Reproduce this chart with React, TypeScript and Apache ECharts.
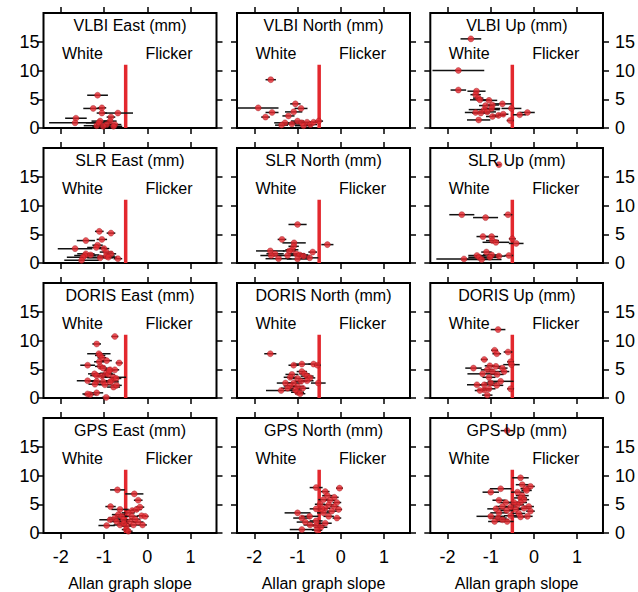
import React, { useEffect, useRef } from "react";
import * as echarts from "echarts";

// ---------- data: [slope, value(mm), slope error half-width] ----------
const vlbiEast = [
  [-1.15, 5.7, 0.24], [-1.25, 3.4, 0.23], [-1.05, 3.5, 0.1], [-1.05, 2.6, 0.12], [-0.68, 2.6, 0.35],
  [-1.65, 1.7, 0.25], [-1.67, 0.9, 0.6], [-0.84, 1.9, 0.1], [-0.86, 1.2, 0.15], [-1.09, 1.2, 0.2],
  [-1.17, 0.4, 0.3], [-0.94, 0.6, 0.25], [-0.75, 0.6, 0.15], [-1.12, 0.9, 0.3], [-0.78, 0.3, 0.2], [-1.02, 0.3, 0.25],
];
const vlbiNorth = [
  [-1.62, 8.4, 0.12], [-1.91, 3.5, 0.47], [-1.59, 2.7, 0.15], [-1.74, 1.9, 0.1], [-1.05, 4.2, 0.12],
  [-0.92, 3.4, 0.15], [-1.09, 2.8, 0.2], [-1.21, 2.1, 0.14], [-1.0, 1.2, 0.15], [-1.29, 0.9, 0.25],
  [-1.13, 0.7, 0.2], [-0.9, 0.9, 0.2], [-0.78, 1.0, 0.15], [-0.7, 0.6, 0.15], [-0.63, 1.0, 0.1],
  [-0.51, 1.2, 0.1], [-0.86, 0.4, 0.2], [-1.37, 0.5, 0.15],
];
const vlbiUp = [
  [-1.46, 15.5, 0.24], [-1.75, 10.0, 0.6], [-1.75, 6.6, 0.18], [-1.33, 6.4, 0.21], [-1.35, 5.8, 0.12],
  [-1.29, 5.2, 0.12], [-1.25, 4.9, 0.23], [-1.04, 4.8, 0.19], [-0.73, 4.2, 0.21], [-1.12, 3.9, 0.15],
  [-0.96, 4.0, 0.15], [-0.98, 3.4, 0.2], [-1.15, 3.2, 0.36], [-1.08, 2.8, 0.2], [-0.52, 3.4, 0.23],
  [-1.35, 2.7, 0.25], [-1.23, 2.6, 0.2], [-0.82, 2.2, 0.15], [-0.71, 2.4, 0.12], [-0.96, 2.0, 0.15],
  [-0.33, 2.3, 0.15], [-0.15, 2.7, 0.17], [-1.28, 1.4, 0.27], [-0.55, 1.3, 0.08],
];
const slrEast = [
  [-1.11, 5.5, 0.1], [-0.84, 5.2, 0.1], [-1.42, 3.9, 0.21], [-1.05, 4.1, 0.12], [-1.15, 3.1, 0.12],
  [-1.18, 2.7, 0.21], [-1.0, 2.5, 0.12], [-1.67, 2.5, 0.4], [-0.95, 1.9, 0.15], [-0.84, 1.6, 0.12],
  [-1.42, 1.6, 0.2], [-1.44, 1.3, 0.25], [-1.31, 1.4, 0.2], [-0.95, 1.2, 0.2], [-1.09, 0.9, 0.3],
  [-0.9, 1.0, 0.2], [-1.49, 1.0, 0.37], [-0.68, 0.75, 0.1], [-1.52, 0.46, 0.4],
];
const slrNorth = [
  [-1.0, 6.7, 0.21], [-1.36, 4.1, 0.1], [-1.08, 3.5, 0.27], [-0.31, 3.2, 0.14], [-1.09, 2.9, 0.12],
  [-1.13, 2.3, 0.15], [-1.19, 2.1, 0.15], [-1.63, 2.1, 0.33], [-1.52, 1.6, 0.2], [-1.61, 1.3, 0.25],
  [-0.65, 1.9, 0.1], [-1.03, 1.6, 0.2], [-0.95, 1.4, 0.2], [-1.23, 1.3, 0.2], [-1.44, 0.75, 0.3],
  [-1.0, 0.7, 0.25], [-0.72, 0.9, 0.2], [-0.86, 1.2, 0.15],
];
const slrUp = [
  [-0.81, 17.1, 0.05], [-1.67, 8.4, 0.29], [-1.12, 7.9, 0.29], [-0.6, 8.4, 0.1], [-1.18, 4.6, 0.15],
  [-0.98, 4.6, 0.15], [-0.96, 3.9, 0.15], [-0.88, 3.6, 0.31], [-0.5, 4.2, 0.08], [-0.41, 3.4, 0.17],
  [-1.1, 1.9, 0.12], [-1.32, 1.3, 0.2], [-1.27, 1.0, 0.25], [-0.98, 1.4, 0.2], [-0.81, 1.2, 0.15],
  [-1.02, 1.0, 0.2], [-0.58, 1.3, 0.1], [-1.62, 0.7, 0.64], [-1.21, 0.6, 0.46],
];
const dorisEast = [
  [-0.75, 10.7, 0.08], [-1.17, 9.4, 0.1], [-1.12, 7.7, 0.27], [-1.09, 7.4, 0.12], [-1.05, 7.0, 0.1],
  [-0.94, 6.5, 0.12], [-0.65, 6.1, 0.08], [-1.38, 5.7, 0.17], [-1.09, 5.5, 0.12], [-1.02, 5.2, 0.1],
  [-0.86, 4.9, 0.12], [-0.75, 4.9, 0.1], [-1.22, 4.2, 0.15], [-1.17, 3.9, 0.15], [-0.95, 4.3, 0.15],
  [-0.9, 4.1, 0.15], [-1.05, 3.8, 0.15], [-0.78, 3.6, 0.29], [-1.38, 3.0, 0.25], [-1.17, 2.9, 0.2],
  [-1.02, 2.8, 0.2], [-0.82, 3.0, 0.15], [-0.72, 3.4, 0.12], [-1.21, 2.4, 0.15], [-0.78, 1.9, 0.15],
  [-0.71, 2.2, 0.12], [-0.98, 2.3, 0.15], [-1.32, 0.6, 0.15], [-1.17, 0.9, 0.15], [-1.38, 0.7, 0.12],
  [-0.95, 0.1, 0.1], [-0.88, 4.8, 0.12], [-1.11, 6.3, 0.12], [-0.86, 2.8, 0.2],
];
const dorisNorth = [
  [-1.63, 7.7, 0.14], [-0.9, 5.9, 0.21], [-0.63, 5.9, 0.12], [-0.54, 5.7, 0.08], [-1.09, 5.7, 0.12],
  [-0.9, 4.6, 0.12], [-0.84, 4.2, 0.12], [-1.13, 4.1, 0.15], [-0.78, 3.8, 0.15], [-0.71, 3.5, 0.12],
  [-1.17, 3.6, 0.15], [-1.0, 3.4, 0.2], [-1.28, 2.6, 0.2], [-1.09, 2.6, 0.2], [-0.92, 2.9, 0.15],
  [-0.78, 3.0, 0.15], [-0.52, 2.6, 0.17], [-1.17, 2.1, 0.15], [-1.0, 2.0, 0.15], [-0.88, 1.7, 0.15],
  [-1.38, 1.3, 0.35], [-1.0, 1.0, 0.15], [-0.94, 0.75, 0.12], [-1.05, 1.4, 0.15], [-1.23, 1.7, 0.15],
];
const dorisUp = [
  [-0.83, 11.9, 0.17], [-0.91, 8.3, 0.08], [-0.86, 7.7, 0.1], [-0.6, 8.0, 0.1], [-1.15, 6.7, 0.08],
  [-0.54, 6.3, 0.08], [-0.52, 5.8, 0.19], [-1.4, 5.2, 0.19], [-1.02, 5.6, 0.12], [-0.88, 5.5, 0.12],
  [-0.73, 5.2, 0.12], [-1.08, 4.9, 0.15], [-1.19, 4.2, 0.35], [-0.96, 4.6, 0.15], [-0.69, 4.6, 0.12],
  [-0.85, 4.1, 0.15], [-1.04, 3.6, 0.15], [-0.77, 2.9, 0.3], [-1.32, 2.3, 0.23], [-1.15, 2.3, 0.2],
  [-0.86, 2.2, 0.15], [-1.15, 1.4, 0.15], [-1.25, 1.3, 0.12], [-1.04, 1.6, 0.15], [-0.54, 1.6, 0.08],
  [-1.08, 0.5, 0.12], [-1.0, 2.6, 0.15],
];
const gpsEast = [
  [-0.69, 7.5, 0.17], [-0.3, 6.8, 0.21], [-0.21, 5.7, 0.1], [-0.85, 4.6, 0.12], [-0.17, 4.5, 0.1],
  [-0.35, 3.9, 0.15], [-0.25, 4.1, 0.12], [-0.44, 3.5, 0.15], [-0.67, 3.2, 0.15], [-0.59, 2.9, 0.15],
  [-0.36, 2.9, 0.15], [-0.13, 3.0, 0.1], [-0.05, 2.9, 0.08], [-0.86, 2.3, 0.25], [-0.75, 2.6, 0.15],
  [-0.55, 2.3, 0.15], [-0.4, 2.0, 0.15], [-0.21, 1.9, 0.12], [-0.94, 1.3, 0.19], [-0.63, 1.4, 0.15],
  [-0.48, 1.2, 0.12], [-0.32, 1.4, 0.12], [-0.49, 0.6, 0.1], [-0.44, 0.3, 0.1], [-0.54, 1.7, 0.12],
  [-0.28, 2.4, 0.12], [-0.71, 2.0, 0.15], [-0.11, 1.4, 0.1], [-0.63, 4.1, 0.2],
];
const gpsNorth = [
  [-0.57, 7.9, 0.15], [-0.03, 7.8, 0.08], [-0.36, 7.2, 0.1], [-0.31, 6.5, 0.12], [-0.15, 6.2, 0.1],
  [-0.4, 5.8, 0.12], [-0.25, 5.7, 0.12], [-0.09, 5.3, 0.1], [-0.48, 5.0, 0.12], [-0.28, 4.9, 0.12],
  [-0.15, 4.6, 0.1], [-0.36, 4.3, 0.12], [-0.57, 4.2, 0.15], [-0.05, 4.1, 0.08], [-1.0, 3.5, 0.3],
  [-0.4, 3.5, 0.15], [-0.21, 3.8, 0.12], [-0.72, 2.9, 0.2], [-0.9, 2.6, 0.2], [-0.28, 2.9, 0.12],
  [-0.09, 2.6, 0.1], [-0.82, 1.9, 0.2], [-0.57, 2.1, 0.15], [-0.36, 1.7, 0.15], [-0.57, 1.3, 0.2],
  [-0.46, 1.0, 0.15], [-0.9, 0.6, 0.28], [-0.55, 0.5, 0.12], [-0.71, 1.4, 0.15], [-0.44, 4.2, 0.12],
];
const gpsUp = [
  [-0.62, 17.8, 0.15], [-0.31, 9.6, 0.19], [-0.27, 8.4, 0.15], [-0.08, 8.1, 0.1], [-0.19, 7.7, 0.12],
  [-0.77, 7.7, 0.25], [-0.17, 7.4, 0.12], [-1.0, 7.1, 0.19], [-0.38, 7.1, 0.15], [-0.27, 6.5, 0.15],
  [-0.31, 6.1, 0.15], [-0.23, 5.8, 0.12], [-0.81, 5.7, 0.15], [-0.65, 5.3, 0.15], [-0.31, 5.3, 0.15],
  [-0.38, 4.9, 0.15], [-0.12, 4.6, 0.12], [-0.73, 4.6, 0.15], [-0.54, 4.5, 0.15], [-0.23, 4.3, 0.15],
  [-0.88, 4.2, 0.2], [-0.42, 4.1, 0.15], [-0.63, 3.9, 0.15], [-0.08, 3.8, 0.1], [-0.81, 3.5, 0.2],
  [-0.35, 3.4, 0.15], [-1.0, 2.9, 0.33], [-0.15, 2.9, 0.12], [-0.54, 3.0, 0.15], [-0.83, 2.6, 0.2],
  [-0.31, 2.8, 0.15], [-0.62, 2.0, 0.15], [-0.91, 2.0, 0.15], [-0.73, 2.3, 0.15], [-0.46, 5.3, 0.15],
];

const panelTitles = [
  "VLBI East (mm)", "VLBI North (mm)", "VLBI Up (mm)",
  "SLR East (mm)", "SLR North (mm)", "SLR Up (mm)",
  "DORIS East (mm)", "DORIS North (mm)", "DORIS Up (mm)",
  "GPS East (mm)", "GPS North (mm)", "GPS Up (mm)",
];
const panelData = [vlbiEast, vlbiNorth, vlbiUp, slrEast, slrNorth, slrUp, dorisEast, dorisNorth, dorisUp, gpsEast, gpsNorth, gpsUp];

const xTicks = [-2, -1, 0, 1];
const yTicks = [0, 5, 10, 15];
const xRange = [-2.4, 1.6];
const yRange = [0, 20];
const flickerBoundary = -0.5;
const boundaryTop = 11;
const regimeLabels = [{ text: "White", x: -1.5 }, { text: "Flicker", x: 0.5 }];
const regimeLabelY = 13;
const xAxisTitle = "Allan graph slope";

// ---------- layout ----------
const COL_LEFT = [43.5, 237, 430.3];
const ROW_TOP = [13, 148, 283, 418];
const PW = 173;
const PH = 115;
const FONT = "'Liberation Sans', Arial, Helvetica, sans-serif";
const RED = "#e3282e";

export default function App() {
  const ref = useRef<HTMLDivElement>(null);
  useEffect(() => {
    if (!ref.current) return;
    const chart = echarts.init(ref.current, null, { renderer: "svg" });
    const grid: any[] = [];
    const xAxis: any[] = [];
    const yAxis: any[] = [];
    const series: any[] = [];
    const graphic: any[] = [];
    const tickStyle = { show: true, length: 6, lineStyle: { color: "#000", width: 1.5 } };
    const noLine = { show: false, onZero: false };
    const labelText = { fontSize: 18, color: "#000", fontFamily: FONT };

    panelData.forEach((data, i) => {
      const row = Math.floor(i / 3);
      const col = i % 3;
      const left = COL_LEFT[col];
      const top = ROW_TOP[row];
      grid.push({ left, top, width: PW, height: PH, show: true, borderColor: "#000", borderWidth: 2, backgroundColor: "transparent" });
      const xBase = {
        type: "value", gridIndex: i, min: xRange[0], max: xRange[1],
        axisLine: noLine, splitLine: { show: false },
        axisTick: { ...tickStyle, customValues: xTicks },
      };
      xAxis.push({
        ...xBase, position: "bottom",
        axisLabel: { show: row === 3, customValues: xTicks, ...labelText, margin: 15 },
        name: row === 3 ? xAxisTitle : "", nameLocation: "middle", nameGap: 42,
        nameTextStyle: { fontSize: 16, color: "#000", fontFamily: FONT },
      });
      xAxis.push({ ...xBase, position: "top", axisLabel: { show: false } });
      const yBase = {
        type: "value", gridIndex: i, min: yRange[0], max: yRange[1],
        axisLine: noLine, splitLine: { show: false },
        axisTick: { ...tickStyle, customValues: yTicks },
      };
      yAxis.push({ ...yBase, position: "left", axisLabel: { show: col === 0, customValues: yTicks, ...labelText, margin: 4 } });
      yAxis.push({ ...yBase, position: "right", axisLabel: { show: col === 2, customValues: yTicks, ...labelText, margin: 12 } });

      const xi = i * 2;
      const yi = i * 2;
      series.push({
        type: "line", xAxisIndex: xi, yAxisIndex: yi, silent: true, symbol: "none",
        data: [[flickerBoundary, 0], [flickerBoundary, boundaryTop]],
        lineStyle: { color: RED, width: 3.5 }, z: 2,
      });
      series.push({
        type: "custom", xAxisIndex: xi, yAxisIndex: yi, silent: true, clip: true, z: 3,
        data: data.map(([x, y, e]) => [x - e, x + e, y]),
        renderItem: (_p: any, api: any) => {
          const a = api.coord([api.value(0), api.value(2)]);
          const b = api.coord([api.value(1), api.value(2)]);
          return { type: "line", shape: { x1: a[0], y1: a[1], x2: b[0], y2: b[1] }, style: { stroke: "#111", lineWidth: 1.5 } };
        },
      });
      series.push({
        type: "scatter", xAxisIndex: xi, yAxisIndex: yi, silent: true, z: 4,
        data: data.map(([x, y]) => [x, y]),
        symbol: "circle", symbolSize: 6,
        itemStyle: { color: RED, borderColor: "#9a1a1e", borderWidth: 0.5 },
      });

      const sx = (v: number) => left + ((v - xRange[0]) / (xRange[1] - xRange[0])) * PW;
      const sy = (v: number) => top + PH - ((v - yRange[0]) / (yRange[1] - yRange[0])) * PH;
      graphic.push({
        type: "text", x: left + PW / 2, y: top + 12, z: 10,
        style: { text: panelTitles[i], fontSize: 16, fontFamily: FONT, fill: "#000", align: "center", verticalAlign: "middle" },
      });
      regimeLabels.forEach((r) => {
        graphic.push({
          type: "text", x: sx(r.x), y: sy(regimeLabelY), z: 10,
          style: { text: r.text, fontSize: 16, fontFamily: FONT, fill: "#000", align: "center", verticalAlign: "middle" },
        });
      });
    });

    chart.setOption({ animation: false, backgroundColor: "#fff", grid, xAxis, yAxis, series, graphic });
    return () => chart.dispose();
  }, []);
  return <div ref={ref} style={{ position: "fixed", left: 0, top: 0, width: 638, height: 592 }} />;
}
